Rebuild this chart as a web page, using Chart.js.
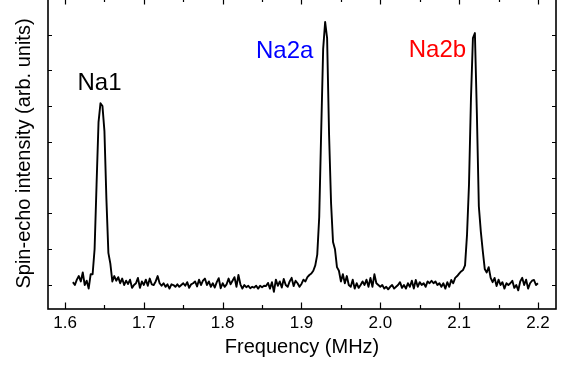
<!DOCTYPE html>
<html>
<head>
<meta charset="utf-8">
<script src="https://cdn.jsdelivr.net/npm/chart.js@4.4.1/dist/chart.umd.min.js"></script>
<style>
    html, body { margin: 0; padding: 0; background: #fff; overflow: hidden; }
    #wrap { position: absolute; left: 0; top: -2px; width: 565px; height: 368px; }
</style>
</head>
<body>
<div id="wrap"><canvas id="nmrChart" width="565" height="368"></canvas></div>
<script>
// Spectrum: frequency (MHz) and spin-echo intensity (arb. units, baseline = 0)
const freq = [
    1.6100, 1.6125, 1.6150, 1.6175, 1.6200, 1.6225, 1.6250, 1.6275, 1.6300, 1.6325,
    1.6350, 1.6375, 1.6400, 1.6425, 1.6450, 1.6475, 1.6500, 1.6525, 1.6550, 1.6575,
    1.6600, 1.6625, 1.6650, 1.6675, 1.6700, 1.6725, 1.6750, 1.6775, 1.6800, 1.6825,
    1.6850, 1.6875, 1.6900, 1.6925, 1.6950, 1.6975, 1.7000, 1.7025, 1.7050, 1.7075,
    1.7100, 1.7125, 1.7150, 1.7175, 1.7200, 1.7225, 1.7250, 1.7275, 1.7300, 1.7325,
    1.7350, 1.7375, 1.7400, 1.7425, 1.7450, 1.7475, 1.7500, 1.7525, 1.7550, 1.7575,
    1.7600, 1.7625, 1.7650, 1.7675, 1.7700, 1.7725, 1.7750, 1.7775, 1.7800, 1.7825,
    1.7850, 1.7875, 1.7900, 1.7925, 1.7950, 1.7975, 1.8000, 1.8025, 1.8050, 1.8075,
    1.8100, 1.8125, 1.8150, 1.8175, 1.8200, 1.8225, 1.8250, 1.8275, 1.8300, 1.8325,
    1.8350, 1.8375, 1.8400, 1.8425, 1.8450, 1.8475, 1.8500, 1.8525, 1.8550, 1.8575,
    1.8600, 1.8625, 1.8650, 1.8675, 1.8700, 1.8725, 1.8750, 1.8775, 1.8800, 1.8825,
    1.8850, 1.8875, 1.8900, 1.8925, 1.8950, 1.8975, 1.9000, 1.9025, 1.9050, 1.9075,
    1.9100, 1.9125, 1.9150, 1.9175, 1.9200, 1.9225, 1.9250, 1.9275, 1.9300, 1.9325,
    1.9350, 1.9375, 1.9400, 1.9425, 1.9450, 1.9475, 1.9500, 1.9525, 1.9550, 1.9575,
    1.9600, 1.9625, 1.9650, 1.9675, 1.9700, 1.9725, 1.9750, 1.9775, 1.9800, 1.9825,
    1.9850, 1.9875, 1.9900, 1.9925, 1.9950, 1.9975, 2.0000, 2.0025, 2.0050, 2.0075,
    2.0100, 2.0125, 2.0150, 2.0175, 2.0200, 2.0225, 2.0250, 2.0275, 2.0300, 2.0325,
    2.0350, 2.0375, 2.0400, 2.0425, 2.0450, 2.0475, 2.0500, 2.0525, 2.0550, 2.0575,
    2.0600, 2.0625, 2.0650, 2.0675, 2.0700, 2.0725, 2.0750, 2.0775, 2.0800, 2.0825,
    2.0850, 2.0875, 2.0900, 2.0925, 2.0950, 2.0975, 2.1000, 2.1025, 2.1050, 2.1075,
    2.1100, 2.1125, 2.1150, 2.1175, 2.1200, 2.1225, 2.1250, 2.1275, 2.1300, 2.1325,
    2.1350, 2.1375, 2.1400, 2.1425, 2.1450, 2.1475, 2.1500, 2.1525, 2.1550, 2.1575,
    2.1600, 2.1625, 2.1650, 2.1675, 2.1700, 2.1725, 2.1750, 2.1775, 2.1800, 2.1825,
    2.1850, 2.1875, 2.1900, 2.1925, 2.1950, 2.1975, 2.2000
];
const intensity = [
    0.08, 0.00, 0.15, 0.25, 0.10, 0.35, 0.00, 0.12, -0.10, 0.30,
    0.30, 1.00, 2.80, 4.55, 5.08, 5.00, 4.30, 2.40, 0.90, 0.60,
    0.10, 0.25, 0.12, 0.22, 0.05, 0.18, 0.00, 0.12, 0.03, 0.15,
    -0.08, 0.00, 0.05, 0.20, -0.08, 0.10, 0.00, 0.15, -0.02, 0.18,
    0.02, 0.00, 0.10, 0.25, 0.05, -0.02, 0.05, -0.05, 0.02, -0.10,
    0.02, 0.00, -0.05, 0.02, -0.05, 0.00, 0.05, -0.02, 0.08, -0.08,
    0.02, 0.05, 0.10, -0.04, 0.15, 0.00, 0.12, 0.18, 0.00, 0.10,
    -0.05, 0.05, -0.07, 0.08, 0.19, -0.09, 0.05, -0.05, 0.02, 0.18,
    0.02, 0.12, 0.22, -0.05, 0.28, 0.02, -0.10, 0.00, -0.06, -0.02,
    -0.09, -0.05, -0.07, -0.02, -0.10, -0.02, -0.06, -0.02, -0.03, 0.06,
    -0.10, 0.08, -0.19, 0.15, -0.02, 0.10, -0.07, 0.17, 0.00, -0.05,
    0.10, 0.20, -0.03, 0.12, 0.05, -0.05, 0.03, 0.15, 0.10, 0.22,
    0.28, 0.32, 0.40, 0.55, 0.85, 1.90, 4.30, 6.60, 7.35, 6.90,
    4.20, 2.30, 1.20, 1.00, 0.50, 0.40, 0.10, 0.30, 0.05, 0.25,
    0.00, -0.05, 0.15, -0.10, 0.05, -0.08, 0.00, 0.10, 0.00, 0.15,
    -0.05, 0.20, -0.05, 0.30, 0.05, 0.00, -0.05, 0.00, -0.10, -0.05,
    -0.12, -0.05, 0.00, -0.10, -0.05, 0.00, 0.08, -0.08, 0.00, -0.10,
    0.05, -0.05, 0.12, -0.10, 0.14, -0.05, 0.08, 0.00, 0.05, -0.05,
    0.10, 0.05, 0.12, 0.05, 0.10, 0.00, 0.05, -0.05, 0.05, -0.10,
    0.08, -0.05, 0.14, 0.05, 0.20, 0.25, 0.32, 0.38, 0.42, 0.55,
    1.40, 2.80, 5.20, 6.90, 7.04, 4.80, 2.20, 1.50, 0.95, 0.45,
    0.35, 0.50, 0.20, 0.08, 0.20, -0.03, 0.15, 0.00, 0.08, -0.10,
    0.05, 0.00, 0.05, 0.12, -0.08, 0.00, -0.15, 0.10, 0.20, 0.00,
    0.15, -0.10, 0.05, 0.12, 0.14, 0.00, 0.05
];

// Axis ticks
const xMajorTicks = [1.6, 1.7, 1.8, 1.9, 2.0, 2.1, 2.2];
const xMinorTicks = [1.65, 1.75, 1.85, 1.95, 2.05, 2.15];
const yTicks = [0, 1, 2, 3, 4, 5, 6, 7, 8];

// Peak labels (anchored in data units)
const peakNames = ['Na1', 'Na2a', 'Na2b'];
const peakLabelFreq = [1.6438, 1.8787, 2.0725];
const peakLabelLevel = [5.45, 6.33, 6.36];
const peakColors = ['#000000', '#0000ff', '#ff0000'];

const FONT = "'Liberation Sans', Arial, Helvetica, sans-serif";

// Box frame, inward tick marks and peak labels
const framePlugin = {
    id: 'frameTicks',
    afterDatasetsDraw(chart) {
        const ctx = chart.ctx;
        const area = chart.chartArea;
        const xs = chart.scales.x;
        const ys = chart.scales.y;
        ctx.save();
        ctx.strokeStyle = '#000';
        ctx.lineWidth = 1.6;
        ctx.strokeRect(area.left, area.top, area.right - area.left, area.bottom - area.top);

        ctx.lineWidth = 1.2;
        ctx.beginPath();
        const xTick = (v, len) => {
            const px = Math.round(xs.getPixelForValue(v)) + 0.5;
            ctx.moveTo(px, area.bottom);
            ctx.lineTo(px, area.bottom - len);
            ctx.moveTo(px, area.top);
            ctx.lineTo(px, area.top + len);
        };
        xMajorTicks.forEach(v => xTick(v, 6.5));
        xMinorTicks.forEach(v => xTick(v, 4));
        yTicks.forEach(v => {
            const py = Math.round(ys.getPixelForValue(v)) + 0.5;
            ctx.moveTo(area.left, py);
            ctx.lineTo(area.left + 4, py);
            ctx.moveTo(area.right, py);
            ctx.lineTo(area.right - 4, py);
        });
        ctx.stroke();

        ctx.font = '24px ' + FONT;
        ctx.textAlign = 'center';
        ctx.textBaseline = 'alphabetic';
        peakNames.forEach((name, i) => {
            ctx.fillStyle = peakColors[i];
            ctx.fillText(name, xs.getPixelForValue(peakLabelFreq[i]), ys.getPixelForValue(peakLabelLevel[i]));
        });
        ctx.restore();
    }
};

const ctx = document.getElementById('nmrChart').getContext('2d');
new Chart(ctx, {
    type: 'line',
    data: {
        datasets: [{
            data: freq.map((f, i) => ({ x: f, y: intensity[i] })),
            borderColor: '#000',
            borderWidth: 1.9,
            borderJoinStyle: 'round',
            pointRadius: 0,
            tension: 0,
            fill: false
        }]
    },
    options: {
        responsive: false,
        animation: false,
        events: [],
        layout: { padding: { top: 0, right: 9, left: 0, bottom: 0 } },
        plugins: {
            legend: { display: false },
            tooltip: { enabled: false }
        },
        scales: {
            x: {
                type: 'linear',
                min: 1.5784,
                max: 2.2229,
                afterBuildTicks: scale => { scale.ticks = xMajorTicks.map(v => ({ value: v })); },
                afterFit: scale => { scale.height = 57; },
                grid: { display: false, drawTicks: false },
                border: { display: false },
                ticks: {
                    color: '#000',
                    padding: 4,
                    maxRotation: 0,
                    font: { family: FONT, size: 17 },
                    callback: v => Number(v).toFixed(1)
                },
                title: {
                    display: true,
                    text: 'Frequency (MHz)',
                    color: '#000',
                    font: { family: FONT, size: 20 },
                    padding: { top: 0, bottom: 6.5 }
                }
            },
            y: {
                min: -0.67,
                max: 8.02,
                afterBuildTicks: scale => { scale.ticks = yTicks.map(v => ({ value: v })); },
                afterFit: scale => { scale.width = 48; },
                grid: { display: false, drawTicks: false },
                border: { display: false },
                ticks: { display: false },
                title: {
                    display: true,
                    text: 'Spin-echo intensity (arb. units)',
                    color: '#000',
                    font: { family: FONT, size: 20 },
                    padding: { top: 12, bottom: 0 }
                }
            }
        }
    },
    plugins: [framePlugin]
});
</script>
</body>
</html>
